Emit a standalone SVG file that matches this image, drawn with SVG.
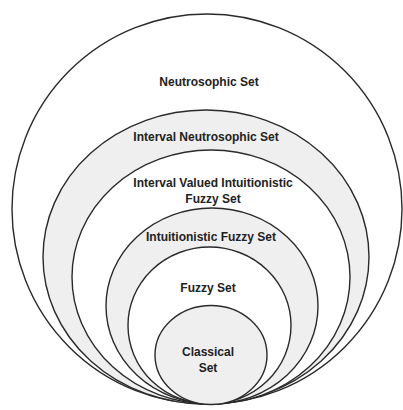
<svg xmlns="http://www.w3.org/2000/svg" width="403" height="410" viewBox="0 0 403 410">
<style>
.c{stroke:#2a2a2a;stroke-width:1.4}
.w{fill:#ffffff}
.g{fill:#efefef}
text{font-family:"Liberation Sans",Arial,sans-serif;font-weight:bold;font-size:12px;fill:#222;text-anchor:middle}
</style>
<rect width="403" height="410" fill="#ffffff"/>
<g id="neutrosophic">
<ellipse class="c w" cx="207" cy="209" rx="195" ry="195"/>
<text x="209" y="86">Neutrosophic Set</text>
</g>
<g id="interval-neutrosophic">
<ellipse class="c g" cx="206" cy="257" rx="163" ry="147"/>
<text x="206" y="141">Interval Neutrosophic Set</text>
</g>
<g id="ivifs">
<ellipse class="c w" cx="211" cy="277" rx="139" ry="127"/>
<text x="213" y="187">Interval Valued Intuitionistic</text>
<text x="213" y="203">Fuzzy Set</text>
</g>
<g id="ifs">
<ellipse class="c g" cx="212" cy="306" rx="106" ry="98"/>
<text x="211" y="241">Intuitionistic Fuzzy Set</text>
</g>
<g id="fuzzy">
<ellipse class="c w" cx="209.5" cy="325.5" rx="81.5" ry="78.5"/>
<text x="208" y="292">Fuzzy Set</text>
</g>
<g id="classical">
<ellipse class="c g" cx="211" cy="355" rx="56" ry="49.5"/>
<text x="208" y="356">Classical</text>
<text x="208" y="372">Set</text>
</g>
<g id="connectors"/>
</svg>
